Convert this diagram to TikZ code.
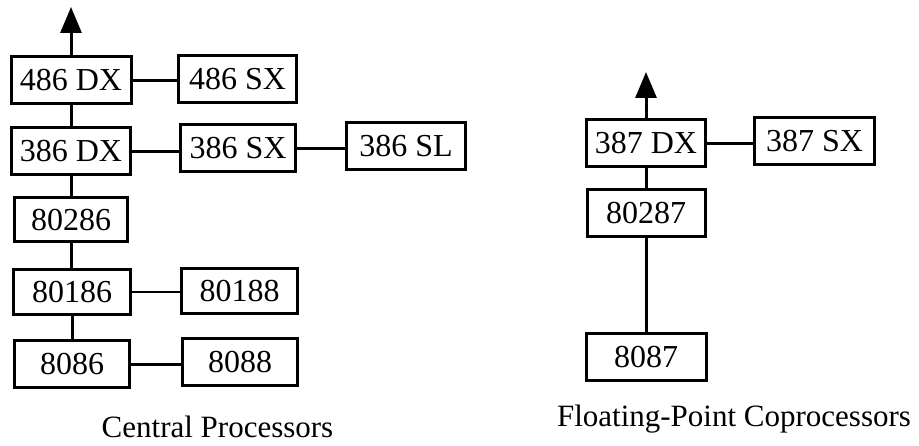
\documentclass[tikz,border=0pt]{standalone}
\usepackage{fontspec}
\setmainfont{Liberation Serif}
\usetikzlibrary{arrows.meta}
\begin{document}
\begin{tikzpicture}[x=1pt,y=-1pt,
  chip/.style={draw, line width=3pt, inner sep=0pt, minimum height=47pt,
    font=\fontsize{32}{38}\selectfont},
  link/.style={line width=2.2pt},
  vlink/.style={line width=3pt},
  up/.style={line width=3pt, -{Triangle[width=21pt,length=26pt]}},
  caption/.style={font=\fontsize{31}{37}\selectfont, inner sep=0pt, anchor=base}]
\useasboundingbox (0,0) rectangle (919,446);
% left column
\node[chip, minimum width=120pt] (d486) at (71,80.5) {486 DX};
\node[chip, minimum width=118pt] (s486) at (237.5,79) {486 SX};
\node[chip, minimum width=119pt] (d386) at (71,151.5) {386 DX};
\node[chip, minimum width=115pt] (s386) at (238,148.5) {386 SX};
\node[chip, minimum width=119pt] (sl386) at (406,146.5) {386 SL};
\node[chip, minimum width=113pt, minimum height=44pt] (p286) at (71,220) {80286};
\node[chip, minimum width=117pt, minimum height=45pt] (p186) at (72,292) {80186};
\node[chip, minimum width=116pt, minimum height=45pt] (p188) at (239.5,291) {80188};
\node[chip, minimum width=115pt] (p86) at (72,364.5) {8086};
\node[chip, minimum width=115pt] (p88) at (240,362.5) {8088};
% right column
\node[chip, minimum width=119pt] (d387) at (646,143.5) {387 DX};
\node[chip, minimum width=120pt] (s387) at (814.5,141.5) {387 SX};
\node[chip, minimum width=118pt] (p287) at (646,213.5) {80287};
\node[chip, minimum width=120pt] (p87) at (646,357) {8087};
% arrow tips
\coordinate (topL) at (71,7);
\coordinate (topR) at (646,72);
% connectors
\draw[up] (d486.north) -- (topL);
\draw[up] (d387.north) -- (topR);
\draw[vlink] (d486.south) -- (d386.north);
\draw[vlink] (d386.south) -- (p286.north);
\draw[vlink] (p286.south) -- (p186.north -| p286.south);
\draw[vlink] (p186.south) -- (p86.north -| p186.south);
\draw[vlink] (d387.south) -- (p287.north);
\draw[vlink] (p287.south) -- (p87.north);
\draw[link] (d486.east) -- (d486.east -| s486.west);
\draw[link] (d386.east) -- (d386.east -| s386.west);
\draw[link] (s386.east) -- (s386.east -| sl386.west);
\draw[link] (p186.east) -- (p186.east -| p188.west);
\draw[link] (p86.east) -- (p86.east -| p88.west);
\draw[link] (d387.east) -- (d387.east -| s387.west);
% captions
\node[caption] (capL) at (217.5,438) {Central Processors};
\node[caption] (capR) at (734,427) {Floating-Point Coprocessors};
\end{tikzpicture}
\end{document}
